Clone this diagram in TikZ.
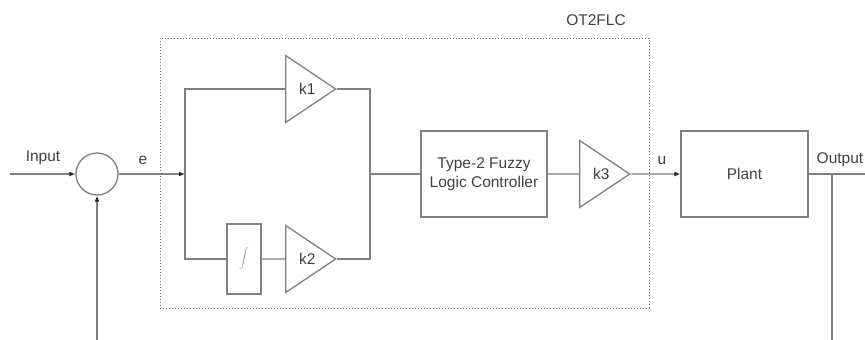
\documentclass[tikz,border=0pt]{standalone}
\usepackage{fontspec}
\setmainfont{Liberation Sans}
\usetikzlibrary{shapes.geometric,arrows.meta,positioning}

\begin{document}
\begin{tikzpicture}[x=1pt,y=-1pt]

% definitions
\tikzstyle{block} = [rectangle, draw=black!50, line width=1.3pt, text=black!75, inner sep=0pt, align=center, font=\fontsize{15.5}{19}\selectfont]

\tikzstyle{gain} = [isosceles triangle, isosceles triangle stretches, draw=black!50, line width=1.3pt, text=black!75, inner sep=0pt, minimum width=67pt, minimum height=50pt, anchor=west, font=\fontsize{15.5}{19}\selectfont]

\tikzstyle{sum} = [circle, draw=black!50, line width=1.3pt, minimum size=42pt, inner sep=0pt]

\tikzstyle{frame} = [rectangle, draw=black!55, dotted, line width=1pt, minimum width=489pt, minimum height=270pt]

\tikzstyle{label} = [text=black!75, inner sep=0pt, font=\fontsize{15.5}{19}\selectfont]

\tikzstyle{line} = [draw=black!50, line width=1.3pt]

\tikzstyle{arrow} = [line, -{Latex[length=6pt,width=5pt,color=black!85]}]

\useasboundingbox (0,0) rectangle (865,340);

% the graph
\node (box) [frame] at (404.5,173) {};
\node (boxname) [label] at (596,20) {OT2FLC};

\node (sum) [sum] at (97,174) {};
\coordinate (in) at (10,174);
\coordinate (fbl) at (97,340);

\coordinate (split) at (185,174);
\node (k1) [gain] at (285,89) {\hspace{7pt}k1};
\node (integ) [block, minimum width=34pt, minimum height=70pt] at (244,259) {\color{black!45}$\displaystyle\int$};
\node (k2) [gain] at (285,259) {\hspace{7pt}k2};
\coordinate (join) at (370,174);

\node (flc) [block, minimum width=126pt, minimum height=86pt] at (484,174) {Type-2 Fuzzy\\Logic Controller};
\node (k3) [gain] at (579,174) {\hspace{7pt}k3};
\node (plant) [block, minimum width=127pt, minimum height=86pt] at (744.5,174) {Plant};

\coordinate (out) at (865,174);
\coordinate (tap) at (832,174);
\coordinate (fbr) at (832,340);

\node (lin) [label] at (43,158) {Input};
\node (le) [label] at (143,160) {e};
\node (lu) [label] at (662,160) {u};
\node (lout) [label] at (840,160) {Output};

\draw [arrow] (in) -- (sum);
\draw [arrow] (fbl) -- (sum);
\draw [arrow] (sum) -- (split);
\draw [line] (k1.west) -| (split) |- (integ.west);
\draw [line] (integ) -- (k2);
\draw [line] (k1.apex) -| (join) |- (k2.apex);
\draw [line] (join) -- (flc);
\draw [line] (flc) -- (k3);
\draw [arrow] (k3.apex) -- (plant);
\draw [line] (plant) -- (out);
\draw [line] (tap) -- (fbr);

\end{tikzpicture}
\end{document}
